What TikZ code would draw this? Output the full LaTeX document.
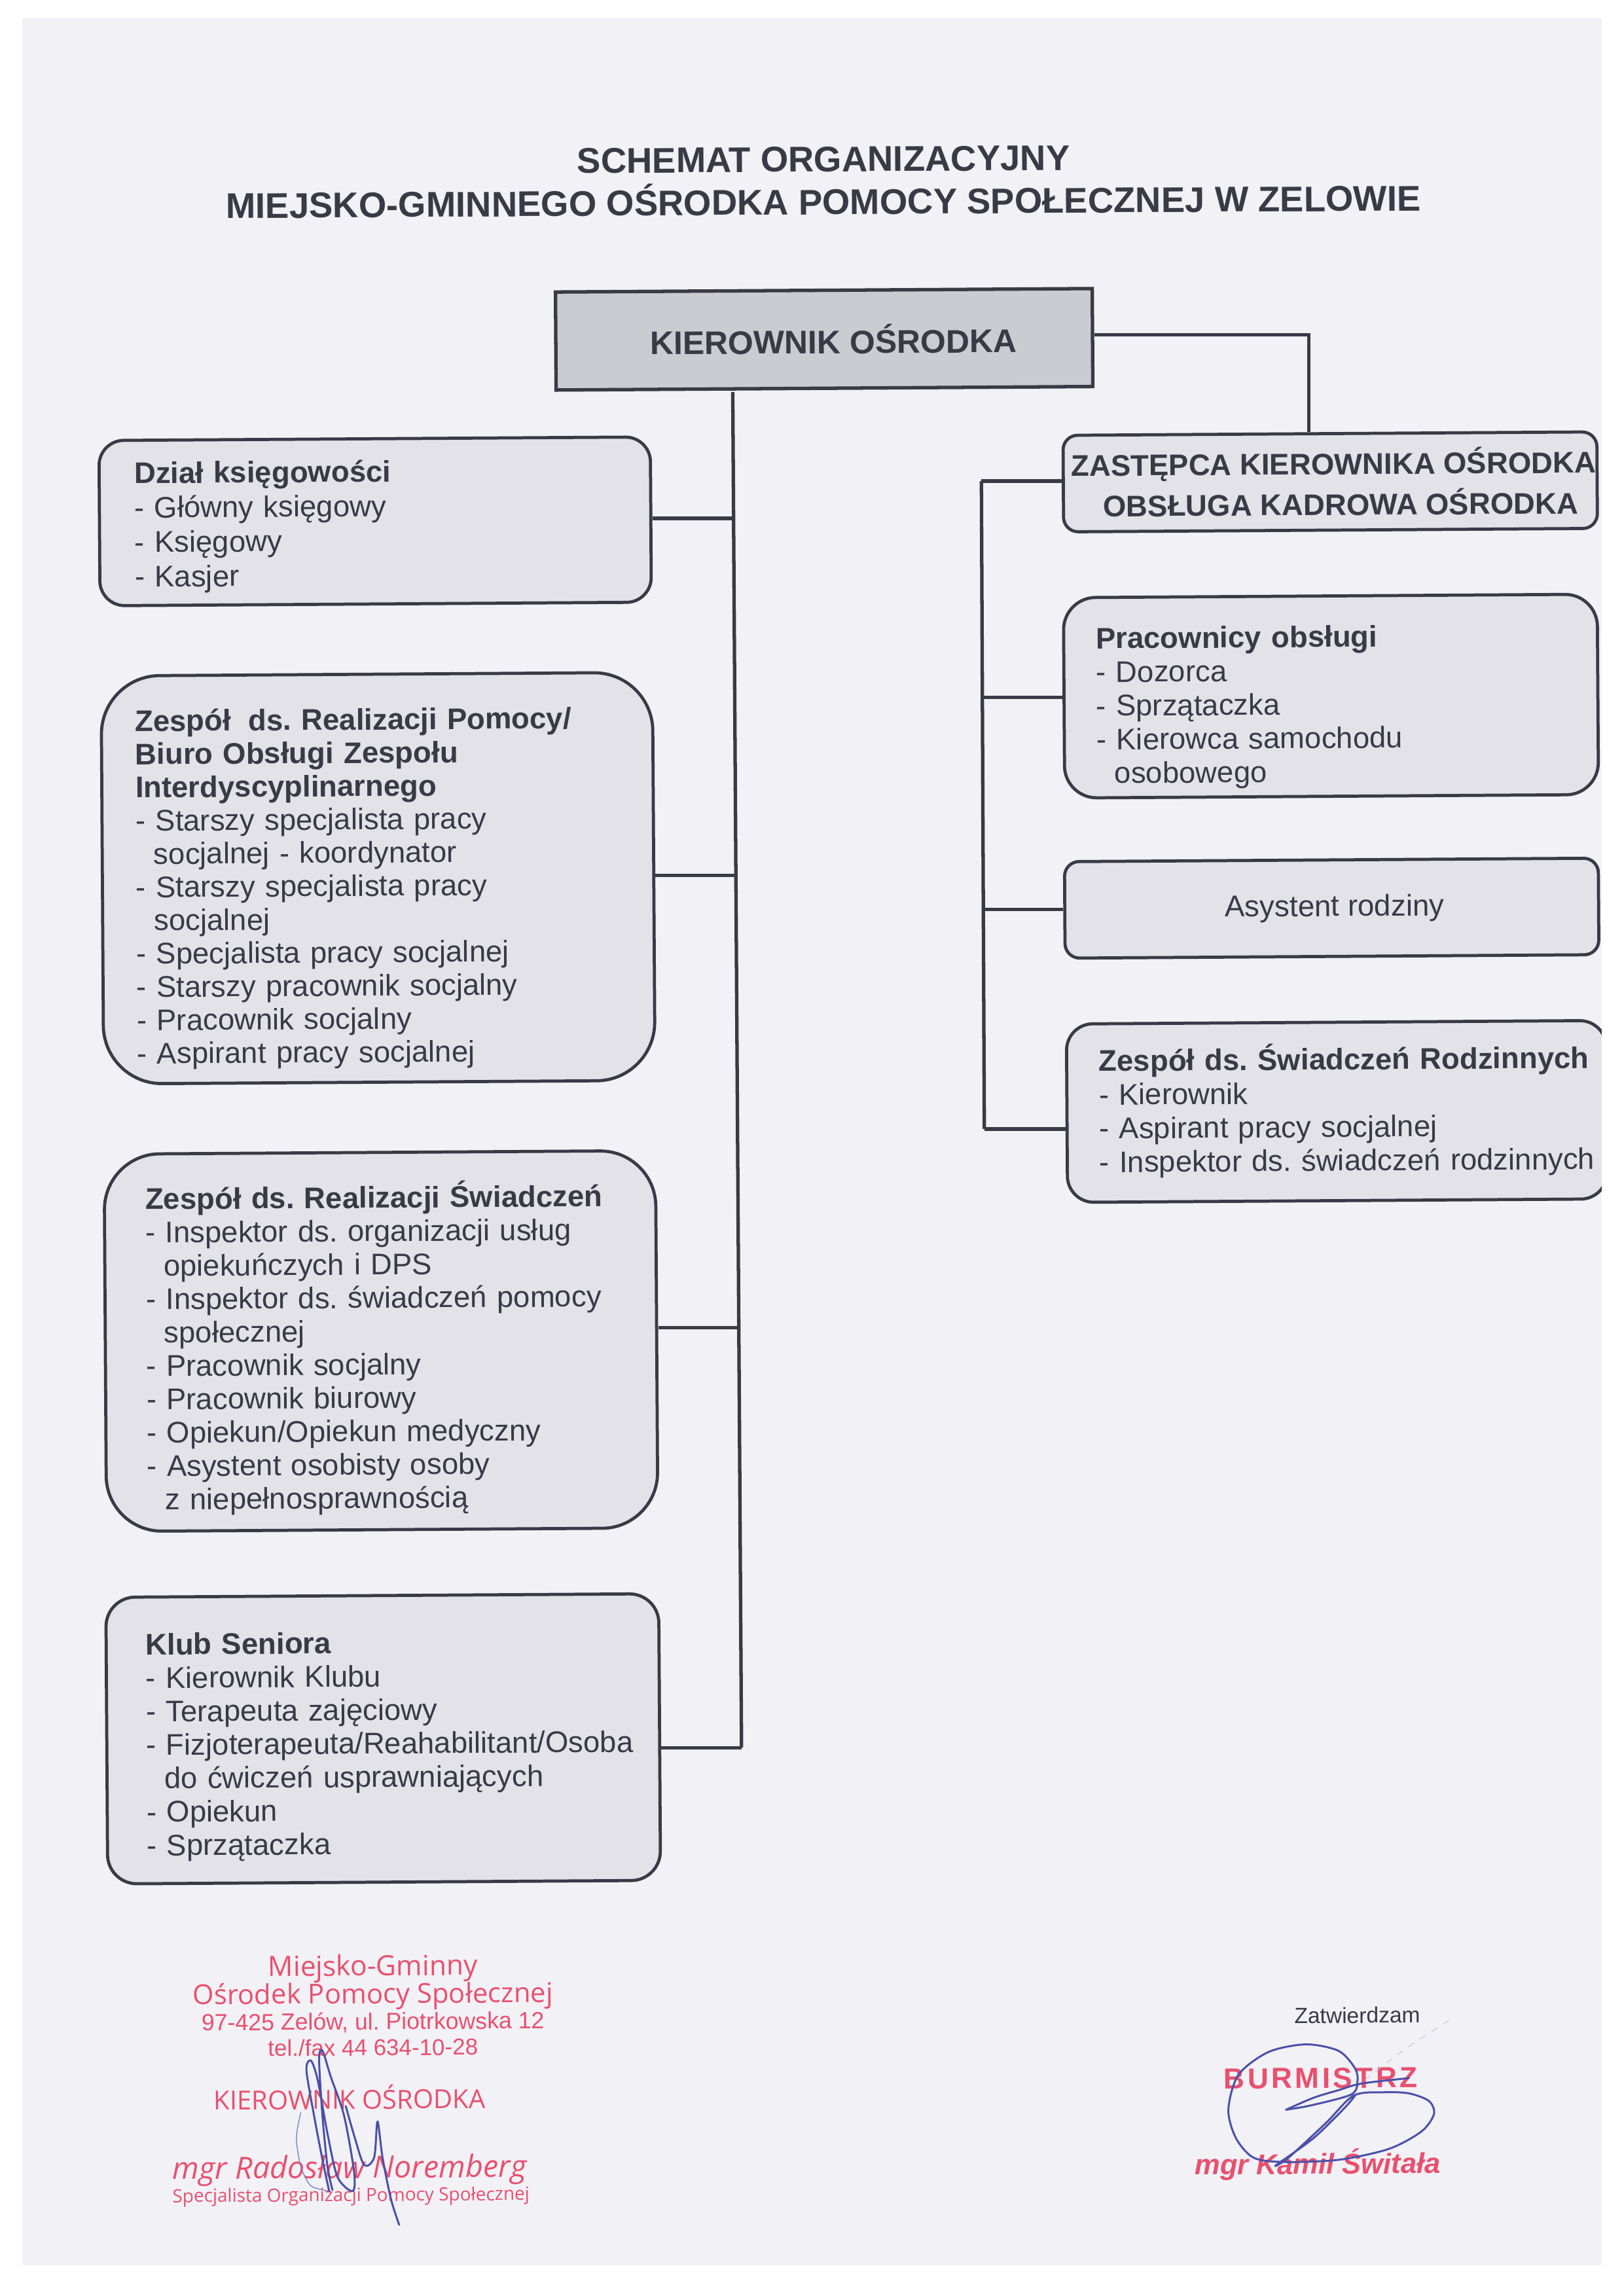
\documentclass[tikz,border=0pt]{standalone}
\usepackage{fontspec}
\setmainfont{Liberation Sans}
\newfontfamily\stampfont{Open Sans}
\usetikzlibrary{calc}
\frenchspacing
\definecolor{paper}{HTML}{F1F1F6}
\definecolor{ink}{HTML}{3A3A46}
\definecolor{boxfill}{HTML}{E2E2E8}
\definecolor{headfill}{HTML}{CBCBD2}
\definecolor{stampred}{HTML}{E8506E}
\definecolor{penblue}{HTML}{4A50A8}
\def\U{0.02234cm}
\tikzset{
  wire/.style={draw=ink,line width=1.5pt,line join=miter},
  rbox/.style n args={5}{draw=ink,line width=1.35pt,fill=boxfill,rotate=0.37,
    rounded corners=#3*\U,minimum width=#1*\U,minimum height=#2*\U,
    text width=(#1-2*#4)*\U,inner xsep=#4*\U,inner ysep=0pt,align=left,text=ink,
    text height=#5*\U,text depth=(#2-#5)*\U},
  cbox/.style n args={3}{draw=ink,line width=1.35pt,fill=boxfill,rotate=0.37,
    rounded corners=#3*\U,minimum width=#1*\U,minimum height=#2*\U,
    inner sep=0pt,align=center,text=ink,font=\fontsize{13}{17.7}\selectfont},
  stamp/.style={text=stampred,inner sep=0pt,rotate=0.37},
  pen/.style={draw=penblue,line width=0.85pt,line cap=round,line join=round},
  thinpen/.style={draw=penblue!70,line width=0.4pt,line cap=round}
}
\newcommand{\hg}{\hspace*{0.6em}}
\newcommand{\ls}[1]{\fontsize{12.95}{#1}\selectfont}
\begin{document}
\begin{tikzpicture}[x=\U,y=-\U]
\useasboundingbox (0,0) rectangle (1110,1570);
\fill[white] (0,0) rectangle (1110,1570);
\fill[paper] (15,12.5) rectangle (1095,1549);

% title
\node[name=t1,inner sep=0pt,text=ink,rotate=0.37,font=\fontsize{15.5}{17}\bfseries] at (563,109) {SCHEMAT ORGANIZACYJNY};
\node[name=t2,inner sep=0pt,text=ink,rotate=0.37,font=\fontsize{15.5}{17}\bfseries] at (563,136) {MIEJSKO-GMINNEGO OŚRODKA POMOCY SPOŁECZNEJ W ZELOWIE};

% named junctions
\coordinate (trunkTop) at (501,268);
\coordinate (j1) at (502,354.5);
\coordinate (j2) at (503.5,598.5);
\coordinate (j3) at (505.5,908);
\coordinate (j4) at (507,1195);
\coordinate (elbowA) at (895,229);
\coordinate (elbowB) at (671,329);
\coordinate (r1) at (672,477);
\coordinate (r2) at (672.5,622);
\coordinate (r3) at (673,772);

% connectors under boxes
\draw[wire] (trunkTop) -- (j4);
\draw[wire] (elbowB) -- (r3);

% head box
\node[name=kier,draw=ink,line width=1.5pt,fill=headfill,rotate=0.37,minimum width=367*\U,minimum height=67*\U,inner sep=0pt,text=ink,font=\fontsize{14.2}{16}\bfseries] at (563.5,232) {\hspace*{8.3pt}KIEROWNIK OŚRODKA};

% left column
\node[name=dzial,rbox={377}{113}{17}{24}{29.5},font=\ls{15}] at (256.5,356.5) {\textbf{Dział księgowości}\\- Główny księgowy\\- Księgowy\\- Kasjer};
\node[name=zrp,rbox={377}{279}{40}{23}{38},font=\ls{14.45}] at (258.5,600.5) {\textbf{Zespół\hspace{0.25em} ds. Realizacji Pomocy/}\\\textbf{Biuro Obsługi Zespołu}\\\textbf{Interdyscyplinarnego}\\- Starszy specjalista pracy\\\hg socjalnej - koordynator\\- Starszy specjalista pracy\\\hg socjalnej\\- Specjalista pracy socjalnej\\- Starszy pracownik socjalny\\- Pracownik socjalny\\- Aspirant pracy socjalnej};
\node[name=zrs,rbox={377}{258}{38}{28}{38},font=\ls{14.5}] at (260.5,917) {\textbf{Zespół ds. Realizacji Świadczeń}\\- Inspektor ds. organizacji usług\\\hg opiekuńczych i DPS\\- Inspektor ds. świadczeń pomocy\\\hg społecznej\\- Pracownik socjalny\\- Pracownik biurowy\\- Opiekun/Opiekun medyczny\\- Asystent osobisty osoby\\\hg z niepełnosprawnością};
\node[name=klub,rbox={378}{196}{20}{27}{39.5},font=\ls{14.55}] at (262,1189) {\textbf{Klub Seniora}\\- Kierownik Klubu\\- Terapeuta zajęciowy\\\mbox{- Fizjoterapeuta/Reahabilitant/Osoba}\\\hg do ćwiczeń usprawniających\\- Opiekun\\- Sprzątaczka};

% right column
\node[name=zast,cbox={365}{66}{10},font=\fontsize{12.95}{17.7}\bfseries] at (909.5,329.5) {\hspace*{3pt}ZASTĘPCA KIEROWNIKA OŚRODKA\\\hspace*{9pt}OBSŁUGA KADROWA OŚRODKA};
\node[name=prac,rbox={365}{137}{22}{22}{35},font=\ls{14.65}] at (910,476) {\textbf{Pracownicy obsługi}\\- Dozorca\\- Sprzątaczka\\- Kierowca samochodu\\\hg osobowego};
\node[name=asr,cbox={365}{66}{10},text height=38.5*\U,text depth=27.5*\U] at (910.5,621) {\hspace*{2.5pt}Asystent rodziny};
\node[name=zsr,rbox={369}{122}{18}{22}{32.5},font=\ls{14.65}] at (914,760) {\textbf{\mbox{Zespół ds. Świadczeń Rodzinnych}}\\- Kierownik\\- Aspirant pracy socjalnej\\\mbox{- Inspektor ds. świadczeń rodzinnych}};

% branches
\draw[wire] (j1 -| dzial.east) -- (j1);
\draw[wire] (j2 -| zrp.east) -- (j2);
\draw[wire] (j3 -| zrs.east) -- (j3);
\draw[wire] (j4 -| klub.east) -- (j4);
\draw[wire] (elbowA -| kier.east) -- (elbowA) -- (elbowA |- zast.north);
\draw[wire] (elbowB -| zast.west) -- (elbowB);
\draw[wire] (r1 -| prac.west) -- (r1);
\draw[wire] (r2 -| asr.west) -- (r2);
\draw[wire] (r3 -| zsr.west) -- (r3);

% margin covers the box that runs off the sheet
\fill[white] (1095,0) rectangle (1110,1570);

% left stamp
\node[name=s1,stamp,font=\stampfont\fontsize{12.1}{14}\selectfont] at (255,1346) {Miejsko-Gminny};
\node[name=s2,stamp,font=\stampfont\fontsize{11.9}{14}\selectfont] at (255,1365) {Ośrodek Pomocy Społecznej};
\node[name=s3,stamp,font=\fontsize{10.15}{11}\selectfont] at (255,1383) {97-425 Zelów, ul. Piotrkowska 12};
\node[name=s4,stamp,font=\fontsize{9.95}{11}\selectfont] at (255,1400) {tel./fax 44 634-10-28};
\node[name=s5,stamp,font=\stampfont\fontsize{11.4}{12}\selectfont] at (239,1434) {KIEROWNIK OŚRODKA};
\node[name=s6,stamp,font=\stampfont\itshape\fontsize{13.3}{15}\selectfont] at (239,1484) {mgr Radosław Noremberg};
\node[name=s7,stamp,font=\stampfont\fontsize{7.95}{10}\selectfont] at (240,1502) {Specjalista Organizacji Pomocy Społecznej};

% left signature (traced)
\begin{scope}[shift={(44.8,1298)},x=0.0051cm,y=-0.00333cm]
\draw[thinpen] plot[smooth] coordinates {(705,985) (692,1100) (705,1230) (735,1320) (790,1345)};
\draw[pen] plot[smooth] coordinates {(790,1345) (770,1200) (745,1000) (722,790) (735,745) (755,830) (785,1080) (815,1280) (860,1345) (865,1260) (835,1000) (795,820) (770,700) (760,740) (770,1000) (785,1230) (800,1340)};
\draw[pen] plot[smooth] coordinates {(840,955) (865,1090) (895,1225) (925,1190) (935,1025) (950,1190) (975,1380) (1000,1500)};
\end{scope}

% right block
\node[name=zat,inner sep=0pt,text=ink,rotate=0.37,font=\fontsize{9.55}{11}\selectfont] at (928,1378) {Zatwierdzam};
\node[name=bur,stamp,font=\fontsize{12.6}{15}\selectfont\bfseries\addfontfeature{LetterSpace=10}] at (903,1421) {BURMISTRZ};
\node[name=mgk,stamp,font=\fontsize{12.4}{15}\selectfont\bfseries\itshape] at (901,1480) {mgr Kamil Świtała};

% right signature (traced)
\begin{scope}[shift={(761,1320.5)},x=0.00383cm,y=-0.00333cm]
\draw[draw=penblue!35,line width=0.3pt,dashed] plot[smooth] coordinates {(1340,410) (1180,530) (1040,650) (975,715)};
\draw[pen] plot[smooth] coordinates {(690,820) (800,765) (900,730) (990,700) (1180,675)};
\draw[pen] plot[smooth] coordinates {(690,820) (790,800) (950,750) (975,690) (965,630) (900,550) (770,520) (620,555) (500,660) (460,820) (490,950) (560,1040) (680,1060) (900,1050) (1100,1000) (1230,920) (1280,840) (1260,780) (1180,745) (1080,740) (960,755) (850,880) (700,1040) (650,1075) (800,950) (925,810) (965,755)};
\end{scope}
\end{tikzpicture}
\end{document}
